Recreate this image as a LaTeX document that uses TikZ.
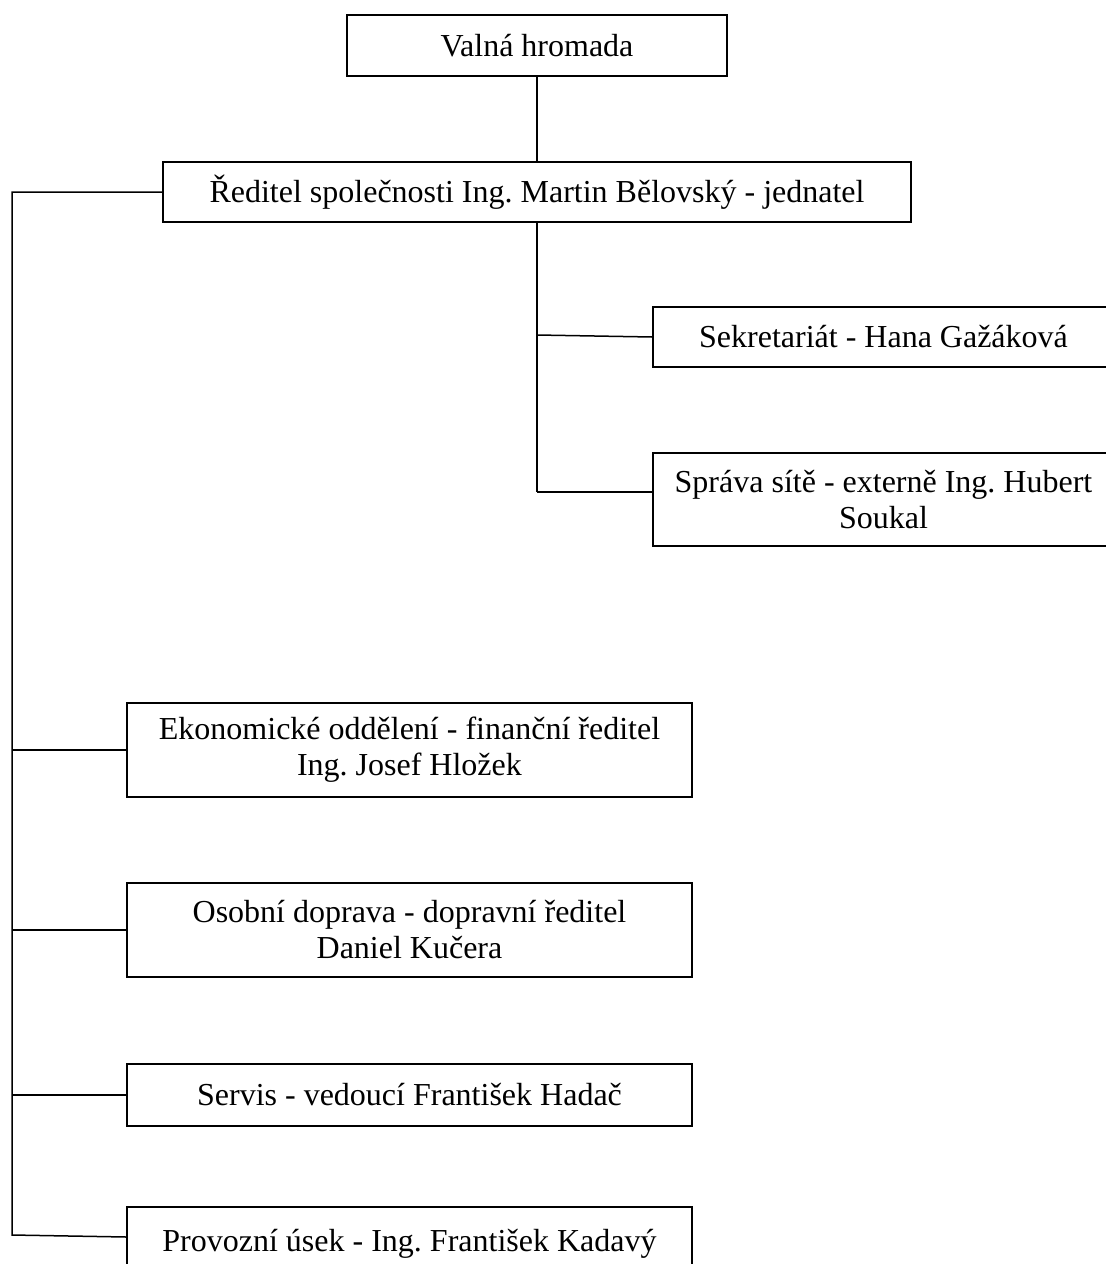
\documentclass[tikz,border=0pt]{standalone}
\usepackage{fontspec}
\setmainfont{Liberation Serif}
\frenchspacing
\begin{document}
\begin{tikzpicture}[x=1pt,y=-1pt,
  box/.style={draw=black, line width=1.5pt, rectangle, align=center, inner sep=0pt,
              font=\fontsize{32}{36}\selectfont},
  conn/.style={draw=black, line width=1.5pt}]
\useasboundingbox (0,0) rectangle (1106,1264);
\node[box, minimum width=380pt, minimum height=61pt] (vh) at (537,45.5) {Valná hromada};
\node[box, minimum width=748pt, minimum height=60pt] (red) at (537,192) {Ředitel společnosti Ing. Martin Bělovský - jednatel};
\node[box, minimum width=461pt, minimum height=60pt] (sek) at (883.5,337) {Sekretariát - Hana Gažáková};
\node[box, minimum width=461pt, minimum height=93pt] (spr) at (883.5,499.5) {Správa sítě - externě Ing. Hubert\\Soukal};
\node[box, minimum width=565pt, minimum height=94pt] (eko) at (409.5,750) {Ekonomické oddělení - finanční ředitel\\Ing. Josef Hložek};
\node[box, minimum width=565pt, minimum height=94pt] (oso) at (409.5,930) {Osobní doprava - dopravní ředitel\\Daniel Kučera};
\node[box, minimum width=565pt, minimum height=62pt] (ser) at (409.5,1095) {Servis - vedoucí František Hadač};
\node[box, minimum width=565pt, minimum height=74pt] (pro) at (409.5,1244) {Provozní úsek - Ing. František Kadavý};
% top connections
\draw[conn] (vh.south) -- (red.north);
\coordinate (rbot) at (537,492);
\coordinate (sekj) at (537,335);
\draw[conn] (red.south) -- (rbot);
\draw[conn] (sekj) -- (sek.west);
\draw[conn] (rbot) -- (rbot -| spr.west);
% left spine
\coordinate (ltop) at (12,192);
\coordinate (lbot) at (12,1235);
\draw[conn] (red.west) -- (ltop) -- (lbot) -- ([yshift=-2pt]lbot -| pro.west);
\draw[conn] (eko.west -| ltop) -- (eko.west);
\draw[conn] (oso.west -| ltop) -- (oso.west);
\draw[conn] (ser.west -| ltop) -- (ser.west);
\end{tikzpicture}
\end{document}
